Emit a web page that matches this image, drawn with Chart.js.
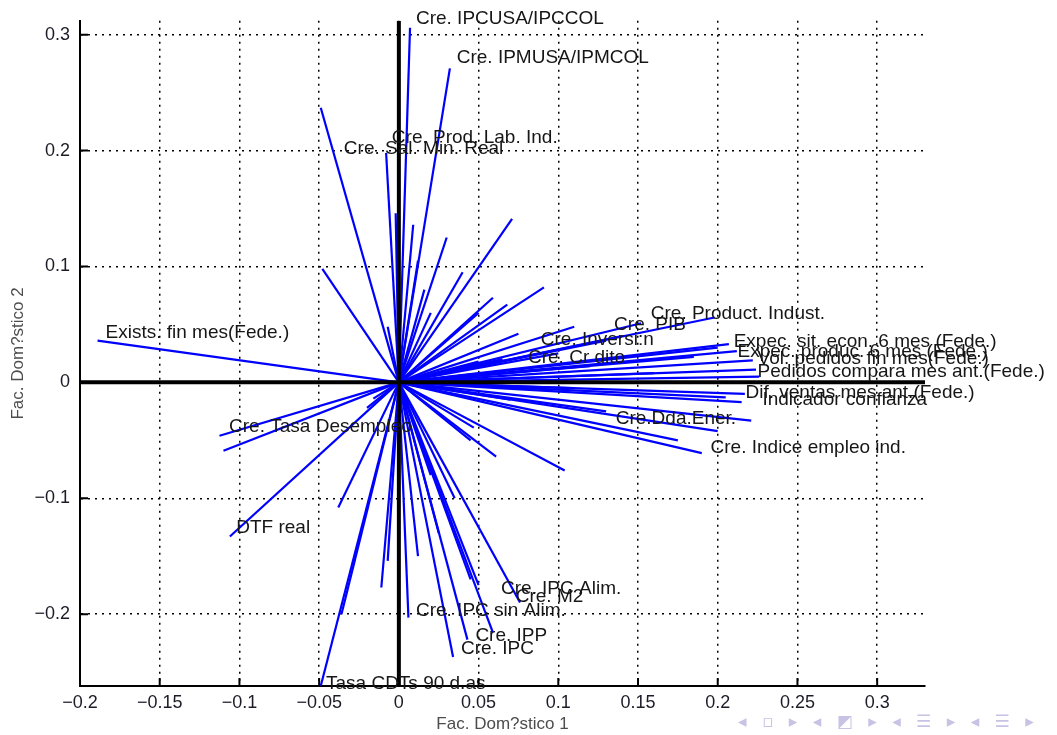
<!DOCTYPE html>
<html>
<head>
<meta charset="utf-8">
<script src="https://cdn.jsdelivr.net/npm/chart.js@4.4.1/dist/chart.umd.min.js"></script>
<style>
    body { margin: 0; background: #fff; }
    #wrap { position: relative; width: 1057px; height: 735px; overflow: hidden; }
    #nav { position: absolute; left: 738px; top: 711px; font: 17px 'DejaVu Sans', sans-serif; color: #c8c2e4; letter-spacing: 5px; white-space: nowrap; }
</style>
</head>
<body>
<div id="wrap">
    <canvas id="biplot" width="1057" height="735"></canvas>
    <div id="nav">◂ ▫ ▸ ◂ ◩ ▸ ◂ ☰ ▸ ◂ ☰ ▸ &nbsp;☰</div>
</div>
<script>
// axis ranges and ticks
const xMin = -0.2, xMax = 0.33;
const yMin = -0.262, yMax = 0.312;
const xTicks = [-0.2, -0.15, -0.1, -0.05, 0, 0.05, 0.1, 0.15, 0.2, 0.25, 0.3];
const yTicks = [-0.2, -0.1, 0, 0.1, 0.2, 0.3];

// loadings: end point of every vector (start is the origin)
const segX = [
    0.007, 0.032, -0.049, -0.008, -0.002, 0.009, 0.071, 0.016, -0.048, 0.091,
    0.068, 0.059, 0.030, 0.040, 0.020, -0.007, 0.050, 0.012,
    0.198, 0.152, 0.140, 0.130, 0.207, 0.212, 0.222, 0.224, 0.226, 0.200,
    0.185, 0.100, 0.065, 0.050, 0.120, 0.160, 0.110, 0.075,
    0.217, 0.215, 0.205, 0.221, 0.200, 0.190, 0.175, 0.104, 0.061, 0.047,
    0.130, 0.110, 0.070, 0.045,
    0.076, 0.050, 0.045, 0.059, 0.043, 0.034, 0.006, 0.012, 0.025, 0.035,
    0.020, -0.011, -0.007, -0.038, -0.049, -0.036, -0.020, -0.106, -0.1125, -0.110,
    -0.016, -0.189
];
const segY = [
    0.306, 0.271, 0.237, 0.198, 0.146, 0.136, 0.141, 0.080, 0.098, 0.082,
    0.067, 0.073, 0.125, 0.095, 0.060, 0.048, 0.060, 0.105,
    0.056, 0.051, 0.040, 0.036, 0.033, 0.027, 0.019, 0.011, 0.005, 0.030,
    0.022, 0.025, 0.020, 0.018, 0.014, 0.008, 0.048, 0.042,
    -0.010, -0.017, -0.013, -0.033, -0.042, -0.061, -0.050, -0.076, -0.064, -0.039,
    -0.025, -0.005, -0.015, -0.050,
    -0.190, -0.175, -0.170, -0.216, -0.222, -0.237, -0.203, -0.150, -0.130, -0.100,
    -0.080, -0.177, -0.154, -0.108, -0.262, -0.200, -0.022, -0.133, -0.046, -0.059,
    -0.014, 0.036
];

// variable names and where their text sits
const labelNames = [
    'Cre. IPCUSA/IPCCOL', 'Cre. IPMUSA/IPMCOL', 'Cre. Prod. Lab. Ind.', 'Cre. Sal. Min. Real',
    'Cre. Product. Indust.', 'Cre. PIB', 'Cre. Inversi:n', 'Cre. Cr dito',
    'Expec. sit. econ. 6 mes (Fede.)', 'Expec. produc. 6 mes (Fede.)', 'Vol. pedidos fin mes(Fede.)',
    'Pedidos compara mes ant.(Fede.)', 'Dif. ventas mes ant.(Fede.)', 'Indicador confianza',
    'Cre.Dda.Ener.', 'Cre. Indice empleo ind.', 'Exists. fin mes(Fede.)', 'Cre. Tasa Desempleo',
    'DTF real', 'Cre. IPC Alim.', 'Cre. M2', 'Cre. IPC sin Alim.', 'Cre. IPP', 'Cre. IPC',
    'Tasa CDTs 90 d.as'
];
const labelX = [
    0.0107, 0.0363, -0.0044, -0.0345,
    0.158, 0.135, 0.089, 0.081,
    0.210, 0.2124, 0.225,
    0.225, 0.2174, 0.228,
    0.136, 0.1955, -0.184, -0.1065,
    -0.102, 0.064, 0.0733, 0.0107, 0.048, 0.039,
    -0.0457
];
const labelY = [
    0.314, 0.280, 0.2115, 0.202,
    0.059, 0.050, 0.037, 0.0215,
    0.035, 0.0267, 0.0206,
    0.0095, -0.0086, -0.0146,
    -0.0318, -0.0567, 0.043, -0.0387,
    -0.1255, -0.178, -0.185, -0.197, -0.219, -0.2296,
    -0.2605
];

Chart.defaults.font.family = "'Liberation Sans', Arial, sans-serif";

function fmtTick(v) {
    if (v === 0) return '0';
    return (v < 0 ? '\u2212' : '') + String(Math.abs(v));
}

// small inward tick marks on the left and bottom axes
const innerTicks = {
    id: 'innerTicks',
    afterDraw(chart) {
        const { ctx, chartArea, scales } = chart;
        ctx.save();
        ctx.strokeStyle = '#000';
        ctx.lineWidth = 2;
        ctx.beginPath();
        xTicks.forEach(v => {
            const px = scales.x.getPixelForValue(v);
            ctx.moveTo(px, chartArea.bottom);
            ctx.lineTo(px, chartArea.bottom - 8);
        });
        yTicks.forEach(v => {
            const py = scales.y.getPixelForValue(v);
            ctx.moveTo(chartArea.left, py);
            ctx.lineTo(chartArea.left + 8, py);
        });
        ctx.stroke();
        ctx.restore();
    }
};

// variable names next to their vectors
const vectorLabels = {
    id: 'vectorLabels',
    afterDatasetsDraw(chart) {
        const { ctx, scales } = chart;
        ctx.save();
        ctx.font = "19px 'Liberation Sans', Arial, sans-serif";
        ctx.fillStyle = '#161616';
        ctx.textAlign = 'left';
        ctx.textBaseline = 'middle';
        labelNames.forEach((name, i) => {
            ctx.fillText(name, scales.x.getPixelForValue(labelX[i]), scales.y.getPixelForValue(labelY[i]));
        });
        ctx.restore();
    }
};

const datasets = segX.map((x, i) => ({
    data: [{ x: 0, y: 0 }, { x: x, y: segY[i] }],
    borderColor: '#0000ff',
    borderWidth: 2.2,
    pointRadius: 0,
    showLine: true,
    fill: false
}));

// thick zero lines on top of the vectors
datasets.push({
    data: [{ x: xMin, y: 0 }, { x: xMax, y: 0 }],
    borderColor: '#000', borderWidth: 4, pointRadius: 0, showLine: true, order: -1
});
datasets.push({
    data: [{ x: 0, y: yMin }, { x: 0, y: yMax }],
    borderColor: '#000', borderWidth: 4, pointRadius: 0, showLine: true, order: -1
});

new Chart(document.getElementById('biplot').getContext('2d'), {
    type: 'scatter',
    data: { datasets: datasets },
    options: {
        responsive: false,
        animation: false,
        layout: { padding: { left: 0, top: 18, right: 132, bottom: 0 } },
        plugins: {
            legend: { display: false },
            tooltip: { enabled: false }
        },
        scales: {
            x: {
                type: 'linear',
                min: xMin,
                max: xMax,
                afterBuildTicks: scale => { scale.ticks = xTicks.map(v => ({ value: v })); },
                afterFit: scale => { scale.height = 49; },
                ticks: {
                    callback: v => fmtTick(v),
                    font: { size: 18 },
                    color: '#1c1c28',
                    padding: 6,
                    maxRotation: 0
                },
                grid: { color: '#000', lineWidth: 1.5, drawTicks: false },
                border: { display: true, color: '#000', width: 2, dash: [2, 5] },
                title: {
                    display: true,
                    text: 'Fac. Dom?stico 1',
                    font: { size: 17 },
                    color: '#4d4d4d',
                    padding: { top: 0, bottom: 0 }
                }
            },
            y: {
                type: 'linear',
                min: yMin,
                max: yMax,
                afterBuildTicks: scale => { scale.ticks = yTicks.map(v => ({ value: v })); },
                afterFit: scale => { scale.width = 80; },
                ticks: {
                    callback: v => fmtTick(v),
                    font: { size: 18 },
                    color: '#1c1c28',
                    padding: 10
                },
                grid: { color: '#000', lineWidth: 1.5, drawTicks: false },
                border: { display: true, color: '#000', width: 2, dash: [2, 5] },
                title: {
                    display: true,
                    text: 'Fac. Dom?stico 2',
                    font: { size: 17 },
                    color: '#4d4d4d',
                    padding: { top: 8, bottom: 0 }
                }
            }
        }
    },
    plugins: [innerTicks, vectorLabels]
});
</script>
</body>
</html>
